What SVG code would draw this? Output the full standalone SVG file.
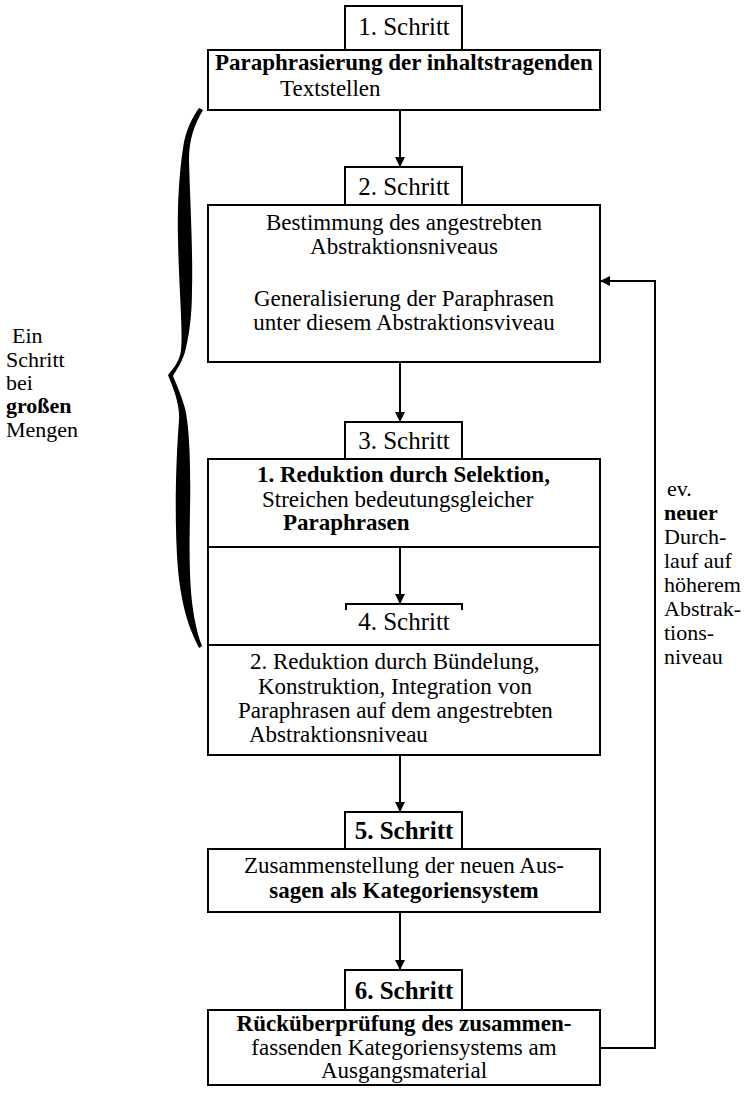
<svg xmlns="http://www.w3.org/2000/svg" width="754" height="1097" viewBox="0 0 754 1097">
<style>
.box{fill:none;stroke:#000;stroke-width:2}
.t{font-family:"Liberation Serif","Times New Roman",serif;font-size:23px;fill:#000}
.s{font-family:"Liberation Serif","Times New Roman",serif;font-size:22px;fill:#000}
.b{font-weight:bold}
.lab{font-family:"Liberation Serif","Times New Roman",serif;font-size:25px;fill:#000;text-anchor:middle}
.c{text-anchor:middle}
.con{fill:none;stroke:#000;stroke-width:2}
</style>
<defs>
<marker id="ah" viewBox="0 0 10 10" refX="10" refY="5" markerWidth="5" markerHeight="5" orient="auto" markerUnits="strokeWidth">
<path d="M0,0 L10,5 L0,10 Z" fill="#000"/>
</marker>
</defs>
<rect width="754" height="1097" fill="#fff"/>

<g id="step1">
<rect class="box" x="345" y="6" width="117" height="44"/>
<text class="lab" x="404" y="35">1. Schritt</text>
<rect class="box" x="208" y="50" width="392" height="60"/>
<text class="t b" x="215" y="70">Paraphrasierung der inhaltstragenden</text>
<text class="t" x="280" y="96">Textstellen</text>
</g>

<g id="step2">
<rect class="box" x="345" y="167" width="117" height="38"/>
<text class="lab" x="404" y="195">2. Schritt</text>
<rect class="box" x="208" y="205" width="392" height="157"/>
<text class="t c" x="404" y="230">Bestimmung des angestrebten</text>
<text class="t c" x="404" y="254">Abstraktionsniveaus</text>
<text class="t c" x="404" y="306">Generalisierung der Paraphrasen</text>
<text class="t c" x="404" y="330">unter diesem Abstraktionsviveau</text>
</g>

<g id="step3">
<rect class="box" x="345" y="422" width="117" height="37"/>
<text class="lab" x="404" y="449">3. Schritt</text>
<rect class="box" x="208" y="459" width="392" height="88"/>
<text class="t b" x="257" y="482">1. Reduktion durch Selektion,</text>
<text class="t" x="262" y="507">Streichen bedeutungsgleicher</text>
<text class="t b" x="283" y="530">Paraphrasen</text>
</g>

<g id="step4">
<path class="box" d="M208,547 V645 M600,547 V645"/>
<path class="box" d="M346,610 V604 H462 V610"/>
<text class="lab" x="404" y="630">4. Schritt</text>
<rect class="box" x="208" y="645" width="392" height="110"/>
<text class="t" x="250" y="669">2. Reduktion durch Bündelung,</text>
<text class="t" x="258" y="694">Konstruktion, Integration von</text>
<text class="t" x="238" y="718">Paraphrasen auf dem angestrebten</text>
<text class="t" x="249" y="742">Abstraktionsniveau</text>
</g>

<g id="step5">
<rect class="box" x="345" y="812" width="117" height="37"/>
<text class="lab b" x="404" y="839">5. Schritt</text>
<rect class="box" x="208" y="849" width="392" height="63"/>
<text class="t c" x="404" y="873">Zusammenstellung der neuen Aus-</text>
<text class="t b c" x="404" y="898">sagen als Kategoriensystem</text>
</g>

<g id="step6">
<rect class="box" x="345" y="970" width="117" height="40"/>
<text class="lab b" x="404" y="999">6. Schritt</text>
<rect class="box" x="208" y="1010" width="392" height="75"/>
<text class="t b c" x="404" y="1031">Rücküberprüfung des zusammen-</text>
<text class="t c" x="404" y="1055">fassenden Kategoriensystems am</text>
<text class="t c" x="404" y="1078">Ausgangsmaterial</text>
</g>

<g id="brace">
<path fill="#000" d="M199,108 C192,118 187,128 184,142 C180,165 177,200 178,240 C179,290 183,330 181,350 C180,360 174,368 168,375 C174,390 180,405 179,420 C176,460 174,520 178,570 C182,610 190,630 199,648 L202,646 C189,610 189,570 190,510 C191,460 189,420 184,405 C181,395 177,385 173,376 C177,369 182,362 185,352 C188,340 192,320 192,290 C193,250 190,200 189,160 C189,140 194,125 203,110 Z"/>
<text class="s" x="12" y="343">Ein</text>
<text class="s" x="6" y="367">Schritt</text>
<text class="s" x="6" y="390">bei</text>
<text class="s b" x="6" y="413">großen</text>
<text class="s" x="6" y="437">Mengen</text>
</g>

<g id="feedback-label">
<text class="s" x="667" y="496">ev.</text>
<text class="s b" x="664" y="520">neuer</text>
<text class="s" x="664" y="544">Durch-</text>
<text class="s" x="664" y="568">lauf auf</text>
<text class="s" x="664" y="592">höherem</text>
<text class="s" x="664" y="616">Abstrak-</text>
<text class="s" x="664" y="640">tions-</text>
<text class="s" x="664" y="664">niveau</text>
</g>

<g id="connectors">
<line class="con" x1="400" y1="110" x2="400" y2="167" marker-end="url(#ah)"/>
<line class="con" x1="400" y1="362" x2="400" y2="422" marker-end="url(#ah)"/>
<line class="con" x1="400" y1="547" x2="400" y2="604" marker-end="url(#ah)"/>
<line class="con" x1="400" y1="755" x2="400" y2="812" marker-end="url(#ah)"/>
<line class="con" x1="400" y1="912" x2="400" y2="970" marker-end="url(#ah)"/>
<path class="con" d="M600,1048 H655 V281 H600" marker-end="url(#ah)"/>
</g>
</svg>
